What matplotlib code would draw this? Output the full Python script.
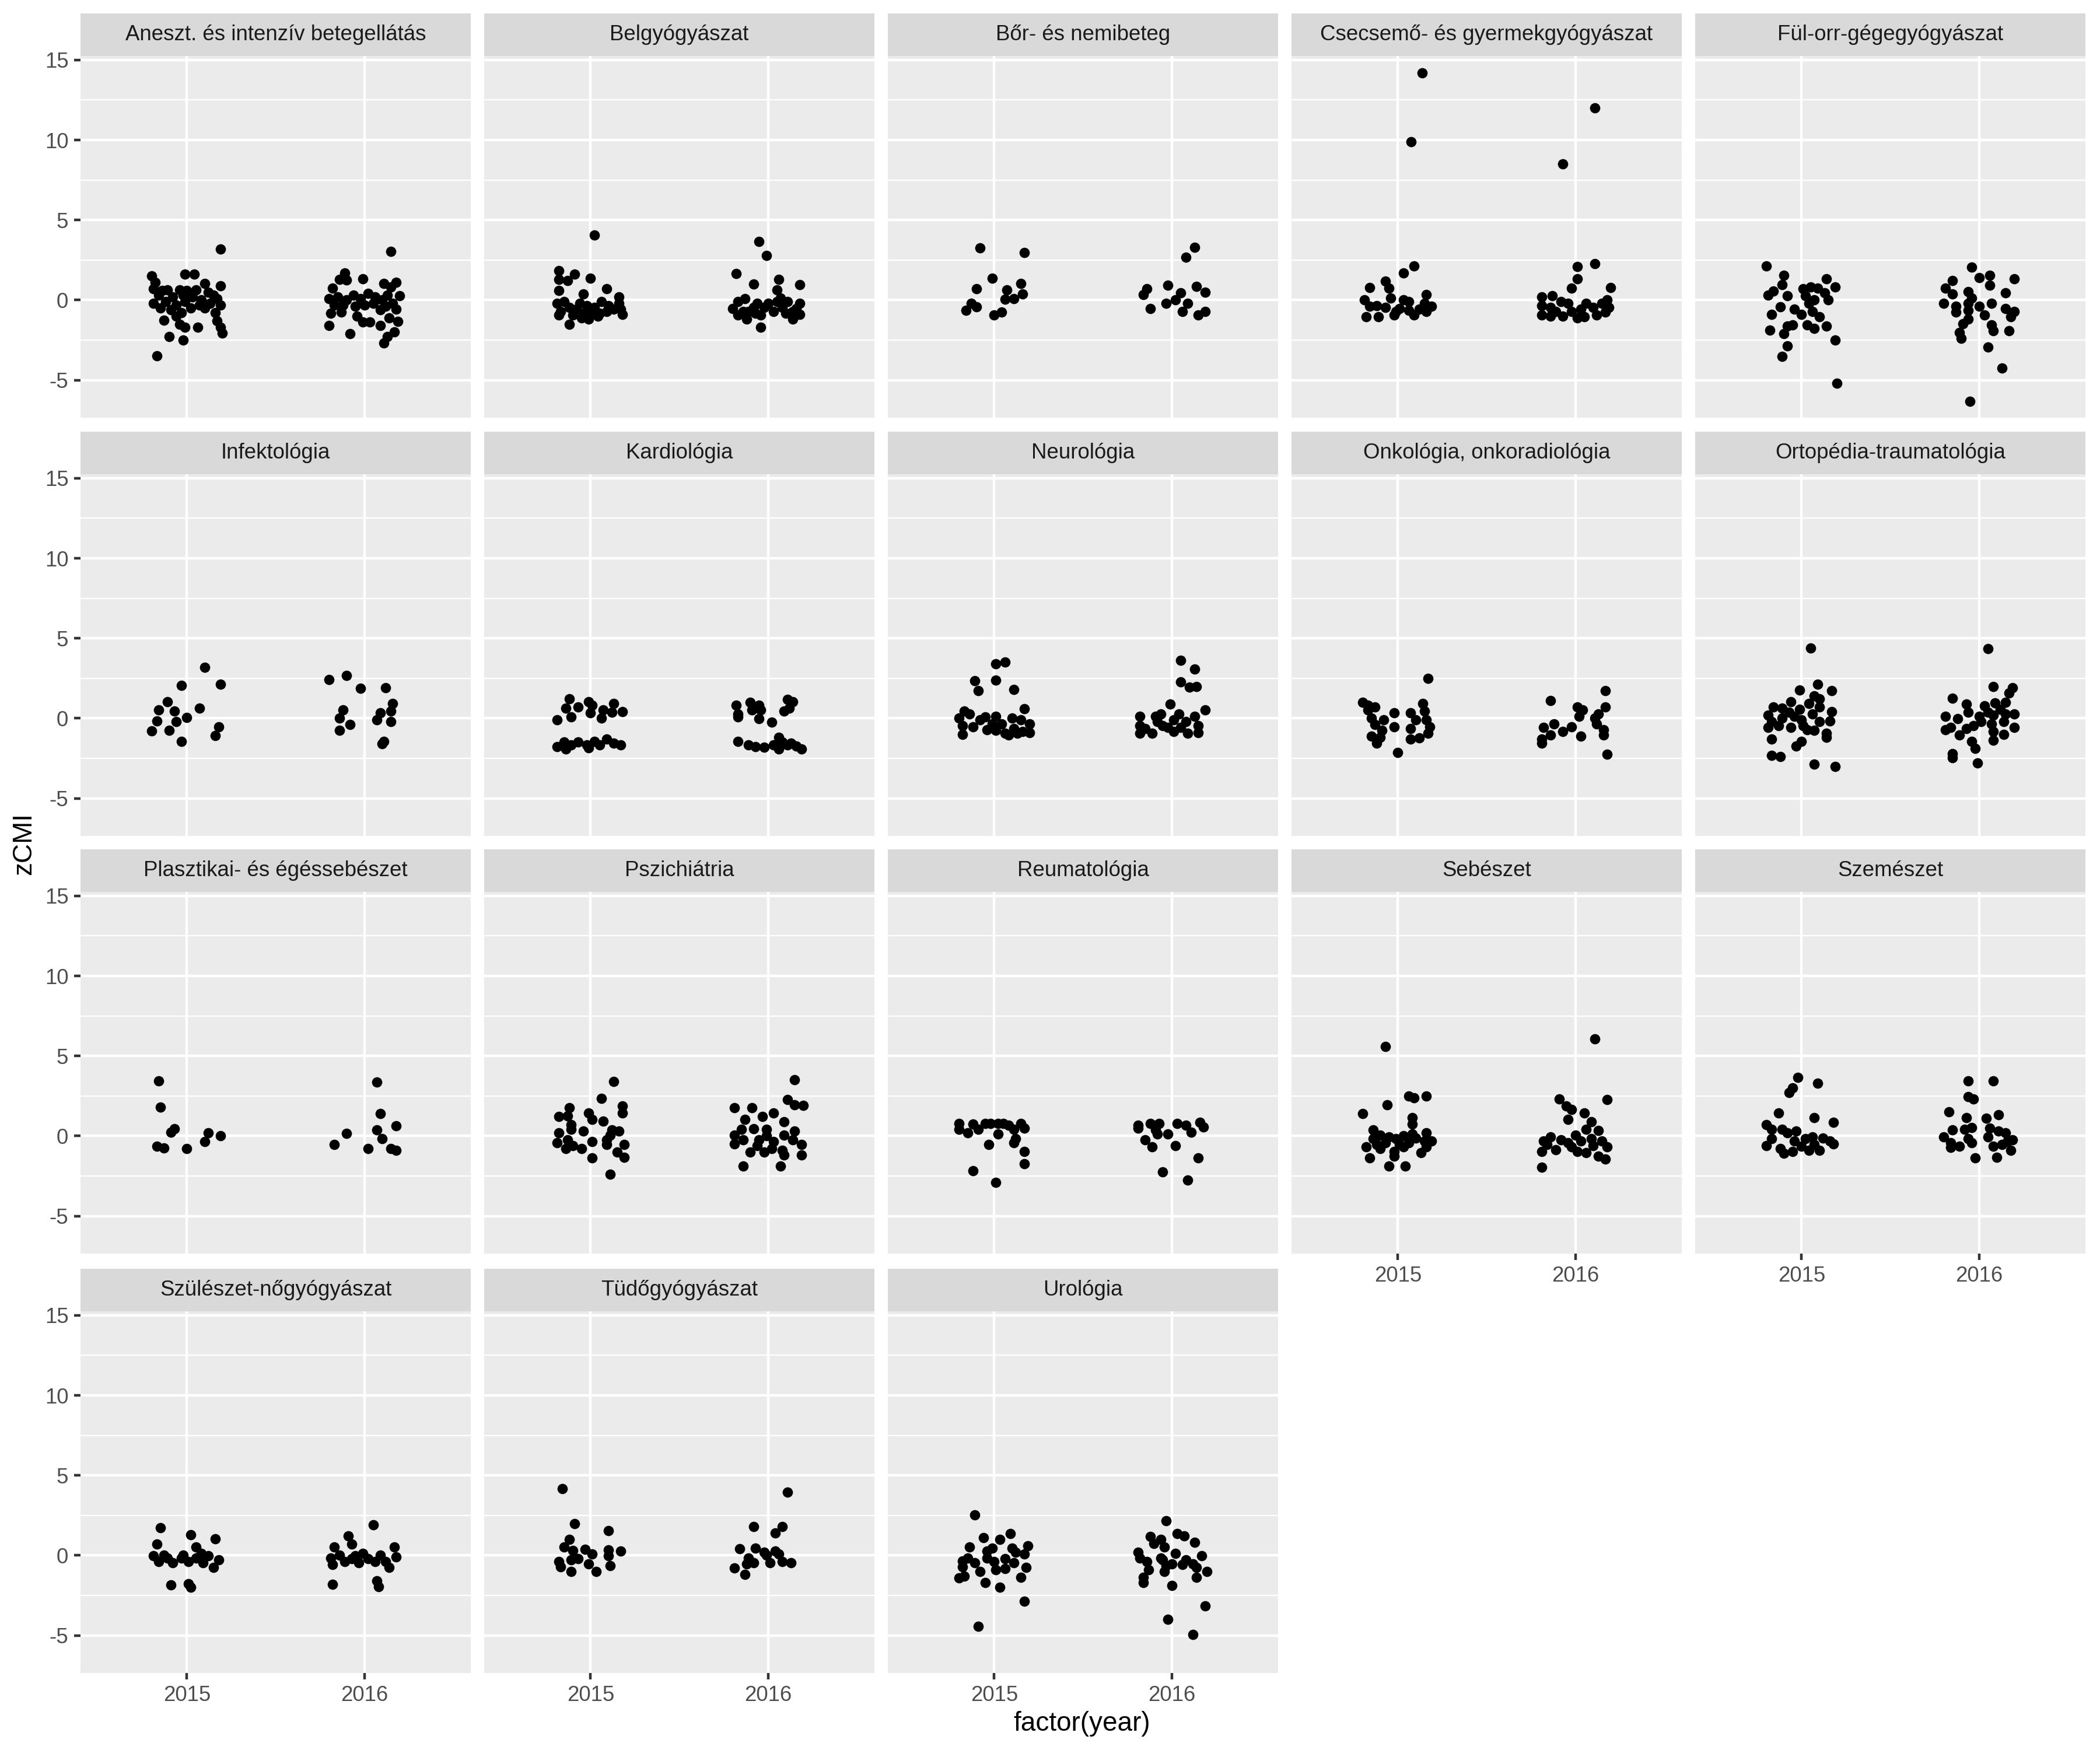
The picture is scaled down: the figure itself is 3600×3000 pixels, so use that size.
import matplotlib
matplotlib.use("Agg")
import matplotlib.pyplot as plt
from matplotlib.ticker import FixedLocator

plt.rcParams['font.family'] = ['Liberation Sans', 'DejaVu Sans']

# zCMI per department, (jitter offset, value)
aneszt_2015 = [(0.19, 3.2), (-0.20, 1.5), (-0.18, 1.1), (-0.01, 1.6), (0.04, 1.6), (0.10, 1.05), (0.19, 0.9),
               (-0.19, 0.7), (-0.14, 0.6), (-0.11, 0.65), (-0.04, 0.65), (0.0, 0.6), (0.05, 0.65), (0.12, 0.5),
               (0.15, 0.3), (-0.16, 0.3), (-0.08, 0.2), (-0.02, 0.3), (0.03, 0.2), (0.08, 0.0), (0.17, 0.1),
               (-0.19, -0.2), (-0.12, -0.1), (-0.06, -0.3), (-0.01, -0.1), (0.07, -0.3), (0.13, -0.2), (0.19, -0.3),
               (-0.15, -0.5), (-0.09, -0.6), (-0.03, -0.8), (0.02, -0.5), (0.10, -0.5), (0.16, -0.8), (-0.13, -1.25),
               (-0.06, -1.0), (-0.04, -1.5), (-0.01, -1.7), (0.06, -1.7), (0.17, -1.3), (0.19, -1.7), (0.20, -2.05),
               (-0.10, -2.3), (-0.02, -2.5), (-0.17, -3.5)]
aneszt_2016 = [(0.15, 3.04), (-0.11, 1.7), (-0.14, 1.3), (-0.10, 1.25), (-0.01, 1.33), (0.11, 1.05), (0.18, 1.1),
               (0.15, 0.8), (-0.18, 0.75), (0.20, 0.27), (-0.20, 0.08), (-0.19, -0.82), (-0.20, -1.6), (-0.08, -2.1),
               (-0.01, -1.36), (0.03, -1.36), (0.09, -1.6), (0.14, -1.1), (0.19, -1.34), (0.17, -2.0), (0.13, -2.3),
               (0.11, -2.7), (0.18, -0.58), (-0.13, -0.75), (-0.04, -1.0), (-0.15, 0.2), (-0.10, 0.0), (-0.06, 0.3),
               (-0.02, 0.1), (0.02, 0.4), (0.06, 0.2), (0.10, 0.0), (0.13, 0.3), (0.16, -0.2), (-0.12, -0.3),
               (-0.05, -0.4), (0.0, -0.3), (0.05, -0.2), (0.09, -0.6), (0.12, -0.4), (-0.17, -0.3)]

belgy_2015 = [(0.02, 4.07), (-0.18, 1.84), (-0.09, 1.62), (-0.18, 1.29), (-0.13, 1.23), (0.0, 1.35), (-0.18, 0.6),
              (-0.04, 0.36), (0.09, 0.69), (0.16, 0.2), (-0.19, -0.22), (-0.17, -0.7), (-0.12, -0.46), (-0.08, -0.58),
              (-0.04, -0.82), (-0.01, -1.18), (0.02, -0.46), (0.06, -0.1), (0.09, -0.7), (0.04, -1.0), (0.16, -0.22),
              (0.18, -0.88), (-0.18, -0.94), (-0.12, -1.52), (-0.15, -0.1), (-0.06, -0.22), (-0.02, -0.34),
              (0.0, -0.7), (0.1, -0.34), (0.13, -0.58), (0.17, -0.58), (-0.10, -0.94), (-0.05, -1.1), (0.05, -0.82)]
belgy_2016 = [(-0.05, 3.67), (-0.01, 2.8), (-0.18, 1.65), (-0.08, 1.01), (0.06, 1.29), (0.18, 0.95), (0.05, 0.63),
              (-0.20, -0.52), (-0.17, -0.1), (-0.13, 0.08), (-0.11, -0.7), (-0.12, -1.18), (-0.04, -0.94),
              (-0.04, -1.69), (0.0, -0.22), (0.03, -0.7), (0.07, 0.14), (0.08, -0.46), (0.11, -0.1), (0.14, -0.7),
              (0.14, -1.18), (0.18, -0.22), (0.18, -0.88), (-0.17, -0.94), (-0.08, -0.46), (-0.06, -0.22),
              (-0.02, -0.46), (0.05, -0.1), (0.1, -0.82), (-0.14, -0.7), (-0.07, -0.82), (0.16, -0.52)]

bor_2015 = [(-0.08, 3.26), (0.17, 2.95), (-0.01, 1.35), (-0.10, 0.69), (0.15, 1.05), (0.07, 0.65), (0.16, 0.36),
            (0.06, 0.05), (0.11, 0.08), (-0.13, -0.22), (-0.10, -0.42), (-0.16, -0.64), (0.0, -0.94), (0.04, -0.76)]
bor_2016 = [(0.13, 3.3), (0.08, 2.68), (-0.02, 0.93), (-0.14, 0.69), (-0.16, 0.33), (0.05, 0.45), (0.14, 0.85),
            (0.19, 0.5), (0.02, 0.02), (-0.03, -0.22), (0.09, -0.22), (-0.12, -0.52), (0.06, -0.72), (0.15, -0.94),
            (0.19, -0.72)]

csecs_2015 = [(0.135, 14.2), (0.075, 9.9), (0.09, 2.11), (0.03, 1.69), (-0.07, 1.17), (-0.05, 0.75), (-0.16, 0.77),
              (-0.04, 0.14), (0.16, 0.35), (-0.19, 0.02), (-0.16, -0.4), (-0.18, -1.04), (-0.11, -1.04),
              (-0.02, -0.94), (0.09, -0.94), (0.03, 0.02), (0.15, -0.22), (0.19, -0.4), (-0.12, -0.34),
              (-0.07, -0.46), (0.01, -0.52), (0.06, -0.1), (0.12, -0.58), (0.16, -0.7), (-0.01, -0.7), (0.06, -0.64)]
csecs_2016 = [(0.11, 12.0), (-0.07, 8.5), (0.01, 2.08), (0.11, 2.26), (0.01, 1.33), (-0.02, 0.75), (0.20, 0.77),
              (-0.19, 0.2), (-0.13, 0.27), (0.18, 0.0), (-0.19, -0.34), (-0.19, -0.94), (-0.14, -1.0), (-0.07, -1.0),
              (0.01, -1.12), (0.05, -1.06), (0.12, -0.94), (0.17, -0.76), (0.19, -0.46), (-0.08, -0.1),
              (-0.04, -0.22), (-0.14, -0.46), (0.06, -0.22), (0.10, -0.46), (0.03, -0.58), (-0.11, -0.7),
              (-0.02, -0.7), (0.15, -0.22)]

ful_2015 = [(-0.20, 2.14), (-0.10, 1.56), (-0.11, 0.97), (-0.16, 0.57), (-0.19, 0.29), (-0.08, 0.27), (0.01, 0.69),
            (0.05, 0.81), (0.09, 0.75), (0.14, 1.32), (0.19, 0.81), (0.13, 0.45), (0.15, 0.02), (0.07, 0.02),
            (0.04, -0.22), (0.02, 0.27), (-0.12, -0.42), (-0.04, -0.58), (0.0, -0.88), (0.06, -0.7), (0.10, -1.06),
            (-0.17, -0.91), (-0.08, -1.61), (-0.05, -1.55), (0.03, -1.55), (0.07, -1.79), (0.14, -1.63),
            (-0.18, -1.87), (-0.10, -2.11), (-0.08, -2.85), (-0.11, -3.54), (0.19, -2.49), (0.20, -5.2)]
ful_2016 = [(-0.04, 2.04), (0.0, 1.39), (0.06, 1.53), (0.20, 1.32), (-0.15, 1.21), (0.06, 0.93), (-0.19, 0.75),
            (-0.15, 0.39), (-0.20, -0.22), (-0.06, 0.53), (-0.04, 0.14), (0.15, 0.45), (-0.13, -0.4), (-0.13, -0.76),
            (-0.06, -0.22), (-0.06, -0.64), (0.0, -0.4), (0.07, -0.22), (0.15, -0.52), (0.20, -0.7), (0.18, -1.06),
            (0.03, -0.94), (-0.06, -1.18), (-0.09, -1.49), (-0.11, -2.03), (-0.10, -2.39), (0.07, -1.55),
            (0.08, -1.93), (0.17, -1.91), (0.05, -2.93), (0.13, -4.26), (-0.05, -6.32)]

infekt_2015 = [(0.10, 3.2), (-0.03, 2.04), (0.19, 2.11), (-0.11, 1.03), (-0.16, 0.51), (-0.07, 0.45), (0.07, 0.65),
               (0.0, 0.05), (-0.17, -0.16), (-0.06, -0.19), (-0.20, -0.79), (-0.10, -0.74), (0.18, -0.52),
               (0.16, -1.09), (-0.03, -1.46)]
infekt_2016 = [(-0.20, 2.42), (-0.10, 2.68), (-0.02, 1.86), (0.12, 1.92), (-0.12, 0.51), (-0.14, 0.02), (-0.08, -0.4),
               (-0.14, -0.76), (0.16, 0.93), (0.09, 0.33), (0.15, 0.45), (0.07, -0.1), (0.15, -0.22), (0.11, -1.43),
               (0.10, -1.6)]

kardio_2015 = [(-0.12, 1.23), (-0.01, 1.05), (0.13, 0.93), (-0.14, 0.63), (-0.07, 0.69), (0.01, 0.81), (0.07, 0.51),
               (0.12, 0.39), (0.18, 0.41), (-0.11, 0.08), (-0.19, -0.1), (0.06, 0.02), (0.0, 0.33), (-0.19, -1.79),
               (-0.15, -1.49), (-0.11, -1.67), (-0.07, -1.49), (-0.02, -1.67), (0.02, -1.43), (0.05, -1.67),
               (0.09, -1.31), (0.13, -1.55), (0.17, -1.67), (-0.14, -1.91), (-0.01, -1.85)]
kardio_2016 = [(-0.18, 0.81), (-0.17, 0.27), (-0.10, 0.99), (-0.05, 0.81), (-0.09, 0.51), (-0.04, 0.51),
               (-0.05, -0.04), (0.02, -0.24), (0.11, 1.17), (0.14, 1.05), (0.09, 0.45), (0.12, 0.63), (-0.17, 0.08),
               (-0.17, -1.43), (-0.11, -1.67), (-0.07, -1.79), (-0.02, -1.81), (0.06, -1.18), (0.06, -1.91),
               (0.11, -1.67), (0.13, -1.55), (0.16, -1.73), (0.19, -1.91), (0.03, -1.67), (0.08, -1.49)]

neuro_2015 = [(0.01, 3.41), (0.06, 3.53), (-0.11, 2.34), (0.01, 2.38), (-0.09, 1.74), (0.11, 1.81), (0.17, 0.59),
              (-0.20, 0.02), (-0.17, 0.45), (-0.14, 0.27), (-0.18, -0.46), (-0.18, -1.0), (-0.12, -0.52),
              (-0.08, -0.1), (-0.05, 0.08), (-0.04, -0.7), (0.01, 0.14), (0.01, -0.76), (0.04, -0.34), (0.06, -0.94),
              (0.08, -1.06), (0.10, 0.02), (0.11, -0.64), (0.13, -0.94), (0.15, -0.1), (0.16, -0.82), (0.20, -0.34),
              (0.20, -0.88), (-0.01, -0.34)]
neuro_2016 = [(0.05, 3.62), (0.13, 3.08), (0.05, 2.29), (0.10, 1.96), (0.14, 1.99), (-0.01, 0.89), (0.19, 0.53),
              (-0.18, 0.14), (-0.18, -0.46), (-0.18, -0.94), (-0.15, -0.64), (-0.11, -0.94), (-0.09, 0.14),
              (-0.06, 0.27), (-0.05, -0.46), (0.01, -0.1), (0.01, -0.82), (0.04, 0.27), (0.05, -0.58), (0.08, -0.22),
              (0.09, -0.94), (0.13, 0.14), (0.15, -0.46), (0.15, -0.88), (-0.08, -0.22), (-0.02, -0.58)]

onko_2015 = [(0.17, 2.48), (-0.20, 1.01), (-0.17, 0.81), (-0.13, 0.69), (-0.17, 0.51), (-0.02, 0.33), (0.14, 0.93),
             (0.15, 0.45), (0.07, 0.33), (-0.15, 0.02), (-0.08, -0.1), (0.10, -0.1), (0.16, -0.1), (-0.13, -0.4),
             (-0.02, -0.52), (0.07, -0.64), (0.18, -0.52), (-0.09, -0.76), (0.17, -0.94), (-0.15, -1.12),
             (-0.10, -1.18), (0.07, -1.31), (0.12, -1.21), (-0.12, -1.55), (0.0, -2.13)]
onko_2016 = [(-0.14, 1.11), (0.17, 1.71), (0.01, 0.69), (0.04, 0.51), (0.17, 0.69), (0.02, 0.14), (0.11, 0.02),
             (0.13, 0.27), (0.12, -0.34), (-0.12, -0.34), (-0.18, -0.58), (-0.07, -0.82), (-0.02, -0.52),
             (0.16, -0.7), (0.16, -1.06), (-0.14, -1.06), (-0.19, -1.31), (-0.19, -1.55), (0.03, -1.12),
             (0.18, -2.25)]

orto_2015 = [(0.05, 4.37), (0.09, 2.11), (-0.01, 1.78), (0.17, 1.74), (0.07, 1.41), (0.10, 1.23), (-0.06, 1.05),
             (0.04, 0.93), (-0.16, 0.69), (-0.11, 0.63), (-0.01, 0.57), (0.10, 0.69), (0.17, 0.41), (-0.19, 0.2),
             (-0.11, 0.02), (-0.04, 0.14), (0.0, -0.1), (0.06, 0.27), (0.10, -0.22), (0.16, -0.16), (-0.19, -0.58),
             (-0.13, -0.46), (-0.06, -0.58), (0.01, -0.46), (0.07, -0.76), (0.14, -0.94), (0.14, -1.18),
             (-0.17, -1.31), (0.0, -1.43), (-0.03, -1.73), (-0.17, -2.33), (-0.12, -2.39), (0.07, -2.85),
             (0.19, -3.0), (0.03, -0.7), (-0.07, 0.39), (-0.17, -0.22)]
orto_2016 = [(0.05, 4.35), (0.08, 1.98), (0.19, 1.9), (0.17, 1.57), (-0.15, 1.26), (-0.07, 0.87), (0.03, 0.77),
             (0.09, 0.97), (0.15, 0.99), (-0.06, 0.39), (0.05, 0.39), (0.12, 0.57), (-0.19, 0.14), (-0.12, -0.04),
             (0.0, 0.14), (0.08, 0.2), (0.15, 0.27), (0.20, 0.27), (0.14, -0.22), (0.07, -0.34), (-0.03, -0.46),
             (-0.07, -0.64), (-0.19, -0.7), (-0.16, -0.58), (0.20, -0.58), (0.08, -0.82), (0.14, -1.0),
             (-0.11, -1.06), (0.08, -1.37), (-0.04, -1.45), (-0.02, -1.89), (-0.15, -2.21), (-0.15, -2.45),
             (-0.01, -2.81), (0.01, -0.22)]

plaszt_2015 = [(-0.16, 3.43), (-0.15, 1.81), (-0.07, 0.45), (-0.09, 0.24), (0.12, 0.2), (0.19, 0.0), (0.10, -0.36),
               (-0.17, -0.66), (-0.13, -0.76), (0.0, -0.78)]
plaszt_2016 = [(0.07, 3.37), (0.09, 1.39), (0.18, 0.64), (0.07, 0.36), (0.10, -0.16), (-0.10, 0.16), (-0.17, -0.54),
               (0.02, -0.78), (0.15, -0.78), (0.18, -0.9)]

pszich_2015 = [(0.13, 3.41), (0.06, 2.33), (-0.12, 1.75), (0.18, 1.87), (0.18, 1.45), (-0.18, 1.2), (-0.13, 1.27),
               (-0.01, 1.45), (0.01, 1.05), (0.07, 0.94), (-0.11, 0.72), (-0.18, 0.18), (-0.11, 0.42), (-0.04, 0.3),
               (0.12, 0.36), (0.16, 0.3), (0.11, 0.06), (-0.19, -0.42), (-0.13, -0.24), (-0.10, -0.6),
               (-0.14, -0.78), (-0.05, -0.78), (0.01, -0.36), (0.09, -0.54), (0.19, -0.54), (0.15, -1.02),
               (0.19, -1.33), (0.01, -1.36), (0.11, -2.41), (0.09, -0.24)]
pszich_2016 = [(0.15, 3.53), (0.11, 2.29), (0.15, 1.93), (0.20, 1.9), (-0.19, 1.77), (-0.09, 1.75), (0.03, 1.45),
               (-0.03, 1.2), (-0.13, 1.02), (0.09, 0.9), (-0.15, 0.42), (-0.08, 0.45), (-0.01, 0.42), (-0.19, 0.06),
               (0.15, 0.3), (-0.01, 0.0), (0.09, 0.06), (-0.14, -0.24), (-0.05, -0.24), (-0.19, -0.48),
               (0.03, -0.36), (0.14, -0.24), (0.19, -0.54), (-0.06, -0.6), (0.02, -0.78), (0.08, -0.9),
               (-0.10, -1.02), (-0.02, -1.02), (0.09, -1.2), (0.19, -1.2), (-0.14, -1.87), (0.07, -1.87)]

reuma_2015 = [(-0.20, 0.79), (-0.20, 0.43), (-0.15, 0.18), (-0.12, 0.73), (-0.09, 0.43), (-0.05, 0.79), (-0.02, 0.79),
              (0.02, 0.79), (0.05, 0.79), (0.08, 0.67), (0.11, 0.43), (0.15, 0.79), (0.17, 0.49), (0.02, 0.12),
              (0.12, -0.18), (0.11, -0.43), (-0.03, -0.52), (0.17, -0.97), (0.17, -1.73), (-0.12, -2.16),
              (0.01, -2.9)]
reuma_2016 = [(-0.19, 0.67), (-0.19, 0.49), (-0.12, 0.79), (-0.09, 0.67), (-0.07, 0.79), (-0.09, 0.37), (-0.08, 0.12),
              (-0.02, 0.12), (0.03, 0.79), (0.08, 0.67), (0.11, 0.24), (0.16, 0.85), (0.18, 0.55), (-0.15, -0.24),
              (-0.11, -0.67), (0.02, -0.61), (0.15, -1.37), (-0.05, -2.26), (0.09, -2.74)]

sebesz_2015 = [(-0.07, 5.6), (0.06, 2.49), (0.09, 2.37), (0.16, 2.49), (-0.06, 1.95), (-0.20, 1.4), (0.08, 1.16),
               (0.08, 0.73), (-0.14, 0.37), (0.16, 0.21), (0.08, 0.12), (-0.14, -0.18), (-0.10, 0.06), (-0.05, -0.06),
               (-0.01, -0.18), (0.03, 0.0), (0.10, -0.12), (0.19, -0.3), (-0.18, -0.67), (-0.10, -0.79),
               (-0.02, -0.98), (-0.02, -1.28), (0.03, -0.67), (0.13, -1.04), (0.16, -0.67), (0.06, -0.43),
               (-0.07, -0.43), (-0.16, -1.37), (-0.05, -1.9), (0.04, -1.9), (0.15, -0.3), (-0.12, -0.55),
               (0.01, -0.55)]
sebesz_2016 = [(0.11, 6.06), (-0.09, 2.32), (0.18, 2.28), (-0.05, 1.89), (-0.02, 1.65), (0.05, 1.44), (-0.04, 1.04),
               (0.09, 0.89), (0.06, 0.43), (0.13, 0.33), (0.0, 0.06), (-0.18, -0.3), (-0.14, -0.06), (-0.08, -0.24),
               (-0.04, -0.43), (0.03, -0.3), (0.09, -0.18), (0.15, -0.3), (0.18, -0.67), (-0.19, -0.98),
               (-0.11, -0.85), (0.01, -0.98), (0.06, -1.04), (0.13, -1.28), (0.17, -1.46), (-0.19, -1.95),
               (-0.16, -0.55), (-0.02, -0.67), (0.10, -0.61)]

szem_2015 = [(-0.02, 3.67), (-0.05, 3.01), (-0.07, 2.71), (0.09, 3.31), (-0.13, 1.42), (0.07, 1.14), (0.18, 0.84),
             (-0.20, 0.72), (-0.17, 0.42), (-0.11, 0.42), (-0.08, 0.18), (-0.03, 0.3), (-0.17, -0.18), (-0.20, -0.6),
             (-0.12, -0.78), (-0.10, -1.08), (-0.05, -0.96), (-0.04, -0.3), (0.02, -0.18), (0.04, -0.9),
             (0.06, -0.06), (0.10, -0.9), (0.12, -0.12), (0.16, -0.3), (0.18, -0.48), (0.0, -0.66), (0.07, -0.54)]
szem_2016 = [(-0.06, 3.43), (0.08, 3.43), (-0.06, 2.47), (-0.03, 2.31), (-0.17, 1.51), (-0.07, 1.14), (0.04, 1.11),
             (0.11, 1.33), (-0.15, 0.36), (-0.08, 0.42), (-0.04, 0.54), (0.06, 0.48), (-0.20, -0.06), (-0.16, -0.42),
             (-0.16, -0.72), (-0.11, -0.66), (-0.06, -0.18), (-0.04, -0.42), (0.05, -0.06), (0.11, 0.3),
             (0.15, 0.18), (0.19, -0.24), (0.08, -0.66), (0.13, -0.54), (0.18, -0.9), (-0.02, -1.36), (0.10, -1.33),
             (0.16, -0.36)]

szul_2015 = [(-0.15, 1.72), (-0.17, 0.69), (0.02, 1.29), (0.16, 1.05), (0.05, 0.51), (-0.19, -0.04), (-0.16, -0.4),
             (-0.11, -0.16), (-0.08, -0.46), (-0.03, -0.16), (0.01, -0.4), (0.05, -0.16), (0.09, -0.46),
             (0.12, -0.04), (0.15, -0.76), (0.18, -0.28), (-0.13, 0.02), (0.08, 0.14), (-0.02, 0.02),
             (-0.09, -1.84), (0.01, -1.78), (0.02, -1.99)]
szul_2016 = [(0.05, 1.9), (-0.09, 1.23), (-0.07, 0.69), (-0.17, 0.54), (0.17, 0.51), (-0.19, -0.16), (-0.18, -0.58),
             (-0.14, 0.02), (-0.11, -0.4), (-0.07, -0.22), (-0.03, -0.46), (-0.01, 0.14), (0.02, -0.22),
             (0.06, -0.4), (0.09, 0.02), (0.12, -0.4), (0.14, -0.76), (0.18, -0.1), (-0.18, -1.82), (0.07, -1.6),
             (0.08, -1.94), (-0.05, -0.04)]

tudo_2015 = [(-0.16, 4.18), (-0.09, 1.99), (0.10, 1.53), (-0.12, 0.99), (-0.15, 0.51), (-0.10, 0.29), (-0.03, 0.39),
             (0.01, 0.08), (0.10, 0.35), (0.17, 0.27), (0.10, -0.04), (-0.18, -0.4), (-0.11, -0.28), (-0.07, -0.22),
             (-0.17, -0.73), (-0.01, -0.52), (0.11, -0.64), (-0.11, -1.0), (0.03, -1.0)]
tudo_2016 = [(0.11, 3.94), (-0.08, 1.8), (0.08, 1.8), (0.04, 1.41), (-0.16, 0.42), (-0.07, 0.45), (-0.02, 0.2),
             (0.04, 0.27), (-0.11, -0.16), (-0.01, 0.02), (0.06, 0.08), (-0.12, -0.52), (-0.08, -0.46),
             (0.01, -0.46), (0.08, -0.4), (0.13, -0.46), (-0.19, -0.8), (-0.13, -1.18)]

urol_2015 = [(-0.11, 2.54), (-0.06, 1.11), (0.09, 1.35), (0.03, 0.99), (-0.14, 0.51), (0.19, 0.6), (-0.04, 0.27),
             (-0.01, 0.45), (0.10, 0.45), (0.12, 0.2), (0.17, 0.08), (-0.18, -0.34), (-0.15, -0.16), (-0.11, -0.46),
             (-0.04, -0.16), (0.0, -0.4), (0.06, -0.22), (0.11, -0.46), (-0.18, -0.7), (-0.08, -1.0), (0.01, -0.88),
             (0.06, -0.82), (0.18, -0.76), (-0.20, -1.42), (-0.17, -1.3), (-0.05, -1.69), (0.15, -1.36),
             (0.03, -1.99), (0.17, -2.87), (-0.09, -4.44)]
urol_2016 = [(-0.03, 2.17), (0.03, 1.38), (0.07, 1.23), (-0.12, 1.17), (-0.06, 0.99), (0.13, 0.81), (-0.10, 0.75),
             (-0.04, 0.51), (0.02, 0.14), (-0.19, 0.2), (0.17, -0.04), (-0.18, -0.16), (-0.14, -0.4), (-0.05, -0.28),
             (-0.03, -0.64), (0.0, -0.52), (0.06, -0.58), (0.12, -0.52), (0.14, -0.76), (0.20, -1.0),
             (-0.13, -0.88), (-0.04, -1.0), (0.14, -1.36), (-0.16, -1.36), (-0.16, -1.69), (0.0, -1.9),
             (0.19, -3.14), (-0.02, -4.0), (0.12, -4.95), (-0.06, -0.16), (0.08, -0.28)]

years = ["2015", "2016"]
y_major = [-5, 0, 5, 10, 15]
y_minor = [-2.5, 2.5, 7.5, 12.5]

panels = [
    ("Aneszt. és intenzív betegellátás", aneszt_2015, aneszt_2016),
    ("Belgyógyászat", belgy_2015, belgy_2016),
    ("Bőr- és nemibeteg", bor_2015, bor_2016),
    ("Csecsemő- és gyermekgyógyászat", csecs_2015, csecs_2016),
    ("Fül-orr-gégegyógyászat", ful_2015, ful_2016),
    ("Infektológia", infekt_2015, infekt_2016),
    ("Kardiológia", kardio_2015, kardio_2016),
    ("Neurológia", neuro_2015, neuro_2016),
    ("Onkológia, onkoradiológia", onko_2015, onko_2016),
    ("Ortopédia-traumatológia", orto_2015, orto_2016),
    ("Plasztikai- és égéssebészet", plaszt_2015, plaszt_2016),
    ("Pszichiátria", pszich_2015, pszich_2016),
    ("Reumatológia", reuma_2015, reuma_2016),
    ("Sebészet", sebesz_2015, sebesz_2016),
    ("Szemészet", szem_2015, szem_2016),
    ("Szülészet-nőgyógyászat", szul_2015, szul_2016),
    ("Tüdőgyógyászat", tudo_2015, tudo_2016),
    ("Urológia", urol_2015, urol_2016),
]

W, H = 3600, 3000
fig = plt.figure(figsize=(12, 10), dpi=300)

ncol = 5
pw, ph = 669, 620        # panel size in px
gap_x = 23
strip_h = 73
row_tops = [96, 813, 1529, 2248]
left0 = 138

for i, (title, pts15, pts16) in enumerate(panels):
    r, c = divmod(i, ncol)
    lx = left0 + c * (pw + gap_x)
    top = row_tops[r]
    ax = fig.add_axes([lx / W, 1 - (top + ph) / H, pw / W, ph / H])
    ax.set_facecolor("#EBEBEB")
    for s in ax.spines.values():
        s.set_visible(False)
    ax.set_xlim(0.4, 2.6)
    ax.set_ylim(-7.35, 15.25)
    ax.set_xticks([1, 2])
    ax.set_yticks(y_major)
    ax.yaxis.set_minor_locator(FixedLocator(y_minor))
    ax.grid(True, which="major", color="white", linewidth=1.07)
    ax.grid(True, which="minor", axis="y", color="white", linewidth=0.53)
    ax.set_axisbelow(True)
    ax.tick_params(which="minor", length=0)
    ax.tick_params(which="major", length=2.75, width=1.07, color="#333333",
                   labelsize=8.8, labelcolor="#4D4D4D", pad=2.2)

    for k, pts in enumerate([pts15, pts16]):
        xs = [k + 1 + p[0] for p in pts]
        ys = [p[1] for p in pts]
        ax.scatter(xs, ys, s=18, c="black", linewidths=0, zorder=3)

    bottom_row = (r == 3) or (r == 2 and c >= 3)
    if bottom_row:
        ax.set_xticklabels(years)
    else:
        ax.set_xticklabels([])
        ax.tick_params(axis="x", length=0)
    if c == 0:
        ax.set_yticklabels([str(v) for v in y_major])
    else:
        ax.set_yticklabels([])
        ax.tick_params(axis="y", length=0)

    sax = fig.add_axes([lx / W, 1 - top / H, pw / W, strip_h / H])
    sax.set_facecolor("#D9D9D9")
    sax.set_xticks([])
    sax.set_yticks([])
    for s in sax.spines.values():
        s.set_visible(False)
    sax.text(0.5, 0.5, title, ha="center", va="center", fontsize=8.8,
             color="#1A1A1A", transform=sax.transAxes)

fig.text(41 / W, 0.518, "zCMI", rotation=90, ha="center", va="center", fontsize=11)
fig.text(1855 / W, 1 - 2955 / H, "factor(year)", ha="center", va="center", fontsize=11)

fig.savefig("out.png", dpi=300)
